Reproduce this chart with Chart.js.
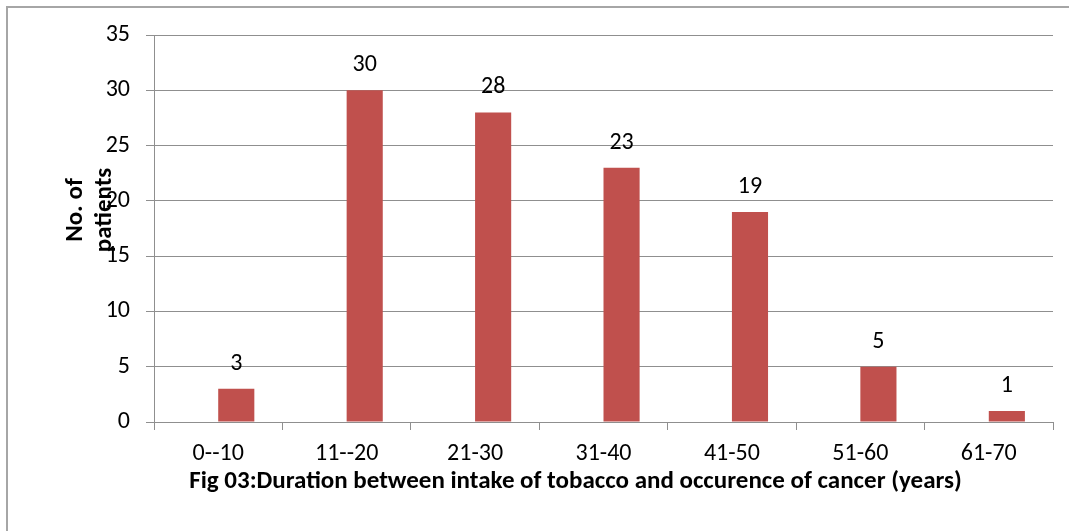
<!DOCTYPE html>
<html>
<head>
<meta charset="utf-8">
<script src="https://cdn.jsdelivr.net/npm/chart.js@4"></script>
<style>
  html, body { margin: 0; padding: 0; background: #fff; overflow: hidden; }
  #wrap { position: relative; width: 1069px; height: 531px; }
  #frame { position: absolute; left: 6px; top: 6px; right: -10px; bottom: -10px;
           border-left: 2px solid #a6a6a6; border-top: 2px solid #a6a6a6; pointer-events: none; }
  canvas { display: block; }
</style>
</head>
<body>
<div id="wrap">
  <canvas id="chart" width="1069" height="531"></canvas>
  <div id="frame"></div>
</div>
<script>
// Duration ranges (years) and number of patients in each
const categories = ['0--10', '11--20', '21-30', '31-40', '41-50', '51-60', '61-70'];
const patients = [3, 30, 28, 23, 19, 5, 1];
const yMin = 0;
const yMax = 35;
const yStep = 5;
const xCaption = 'Fig 03:Duration between intake of tobacco and occurence of cancer (years)';
const yCaption = ['No. of', 'patients'];

const FONT = 'Carlito, Lato, "Open Sans", sans-serif';
const BAR_RED = '#C0504D';
const GRID = '#8f8f8f';

// Value labels above each bar
const valueLabels = {
  id: 'valueLabels',
  afterDatasetsDraw(chart) {
    const ctx = chart.ctx;
    const meta = chart.getDatasetMeta(1);
    ctx.save();
    ctx.font = '24px ' + FONT;
    ctx.fillStyle = '#000';
    ctx.textAlign = 'center';
    ctx.textBaseline = 'middle';
    meta.data.forEach((bar, i) => {
      ctx.fillText(String(patients[i]), bar.x, bar.y - 25);
    });
    ctx.restore();
  }
};

// Axis captions (x caption below the labels, y caption rotated on two lines)
const captions = {
  id: 'captions',
  afterDraw(chart) {
    const ctx = chart.ctx;
    const a = chart.chartArea;
    ctx.save();
    ctx.fillStyle = '#000';
    ctx.font = 'bold 25px ' + FONT;
    ctx.textAlign = 'center';
    ctx.textBaseline = 'middle';
    ctx.fillText(xCaption, (a.left + a.right) / 2 - 28, a.bottom + 60);

    ctx.translate(a.left - 78, a.top + 175);
    ctx.rotate(-Math.PI / 2);
    ctx.fillText(yCaption[0], 0, 0);
    ctx.fillText(yCaption[1], 0, 29);
    ctx.restore();
  }
};

new Chart(document.getElementById('chart'), {
  type: 'bar',
  data: {
    labels: categories,
    datasets: [
      { label: '', data: categories.map(() => null), backgroundColor: 'rgba(0,0,0,0)' },
      { label: 'No. of patients', data: patients, backgroundColor: BAR_RED, borderWidth: 0 }
    ]
  },
  options: {
    responsive: false,
    devicePixelRatio: 1,
    animation: false,
    events: [],
    layout: { padding: { left: 0, right: 16, top: 35, bottom: 0 } },
    categoryPercentage: 0.5625,
    barPercentage: 1.0,
    plugins: {
      legend: { display: false },
      tooltip: { enabled: false },
      title: { display: false }
    },
    scales: {
      x: {
        grid: { display: true, drawOnChartArea: false, drawTicks: true, tickLength: 8, color: GRID, lineWidth: 1 },
        border: { display: true, color: GRID, width: 1 },
        ticks: { color: '#000', font: { family: FONT, size: 24 }, padding: 10, maxRotation: 0 },
        afterFit(scale) { scale.height = 109; }
      },
      y: {
        min: yMin,
        max: yMax,
        grid: { color: GRID, lineWidth: 1, drawTicks: true, tickLength: 8 },
        border: { display: true, color: GRID, width: 1 },
        ticks: { stepSize: yStep, color: '#000', font: { family: FONT, size: 24 }, padding: 16 },
        afterFit(scale) { scale.width = 154; }
      }
    }
  },
  plugins: [valueLabels, captions]
});
</script>
</body>
</html>
